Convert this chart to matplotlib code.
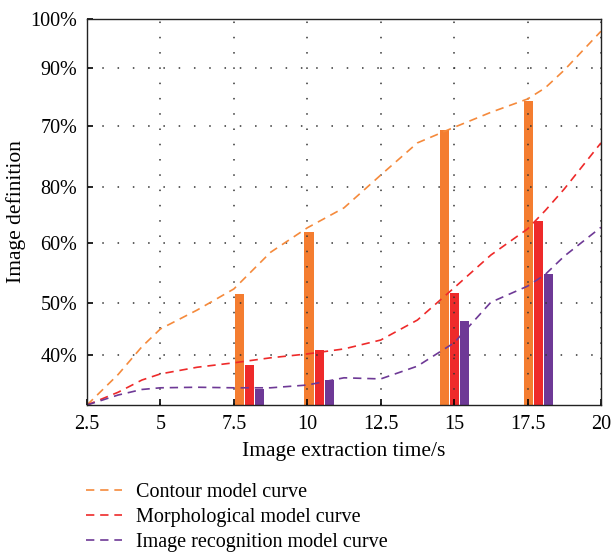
import matplotlib.pyplot as plt
import numpy as np

# Curve samples (x in seconds, y in axis units)
curva_x = [2.5, 3.56, 4.37, 5, 6.25, 7.5, 8.75, 10, 11.25, 12.5, 13.75, 15, 16.25, 17.5, 18.1, 18.75, 20]
contorno = [30.5, 36.0, 41.0, 44.2, 47.6, 51.4, 58.0, 62.4, 66.0, 71.9, 77.7, 80.5, 83.2, 85.6, 87.6, 90.8, 97.8]
morfologico = [30.5, 32.8, 35.0, 36.1, 37.3, 38.1, 39.0, 39.7, 40.6, 42.2, 45.8, 51.6, 57.5, 62.2, 65.5, 69.4, 77.7]
reconhecimento = [30.5, 32.3, 33.3, 33.6, 33.7, 33.6, 33.6, 34.1, 35.4, 35.2, 37.5, 41.7, 49.0, 51.9, 54.0, 57.3, 62.5]

# Bars: group centres (red bar) and heights
grupos = [8.03, 10.41, 15.01, 17.87]
barras_contorno = [50.5, 61.6, 80.0, 85.2]
barras_morfologico = [37.7, 40.4, 50.7, 63.6]
barras_reconhecimento = [33.4, 35.0, 45.6, 54.1]

# y tick positions and labels (labels as printed in the original)
y_ticks = [39.5, 48.9, 59.7, 69.7, 80.7, 91.2, 100]
y_labels = ['40%', '50%', '60%', '80%', '70%', '90%', '100%']
x_ticks = [2.5, 5, 7.5, 10, 12.5, 15, 17.5, 20]
x_labels = ['2.5', '5', '7.5', '10', '12.5', '15', '17.5', '20']

laranja = '#F47D30'
vermelho = '#EE2A2A'
roxo = '#6E3996'

plt.rcParams['font.family'] = ['Liberation Serif', 'DejaVu Serif']

fig = plt.figure(figsize=(6.11, 5.53), dpi=100)
ax = fig.add_axes([0.1424, 0.2676, 0.8412, 0.698])

g = np.array(grupos)
w = 0.31
ax.bar(g - 0.35, barras_contorno, width=w, color=laranja, zorder=1)
ax.bar(g, barras_morfologico, width=w, color=vermelho, zorder=1)
ax.bar(g + 0.35, barras_reconhecimento, width=w, color=roxo, zorder=1)

dash = (0, (5, 3.5))
l1, = ax.plot(curva_x, contorno, color='#F58A3C', lw=1.2, linestyle=dash, zorder=2)
l2, = ax.plot(curva_x, morfologico, color=vermelho, lw=1.2, linestyle=dash, zorder=2)
l3, = ax.plot(curva_x, reconhecimento, color=roxo, lw=1.2, linestyle=dash, zorder=2)

ax.set_xlim(2.5, 20)
ax.set_ylim(30.5, 100)
ax.set_xticks(x_ticks)
ax.set_xticklabels(x_labels)
ax.set_yticks(y_ticks)
ax.set_yticklabels(y_labels)
ax.tick_params(direction='in', length=4, width=1.2, labelsize=14.5, pad=7)
ax.grid(True, color='#333333', linestyle=(0, (1, 9)), linewidth=1.1)

for s in ax.spines.values():
    s.set_linewidth(1.0)
    s.set_color('#222222')

ax.set_xlabel('Image extraction time/s', fontsize=15.5, labelpad=6)
ax.set_ylabel('Image definition', fontsize=15.5, labelpad=3)

fig.legend([l1, l2, l3],
           ['Contour model curve', 'Morphological model curve', 'Image recognition model curve'],
           loc='upper left', bbox_to_anchor=(0.127, 0.142), frameon=False,
           fontsize=14.5, handlelength=1.8, handletextpad=0.7, labelspacing=0.3,
           borderaxespad=0)

fig.savefig('out.png', dpi=100)
